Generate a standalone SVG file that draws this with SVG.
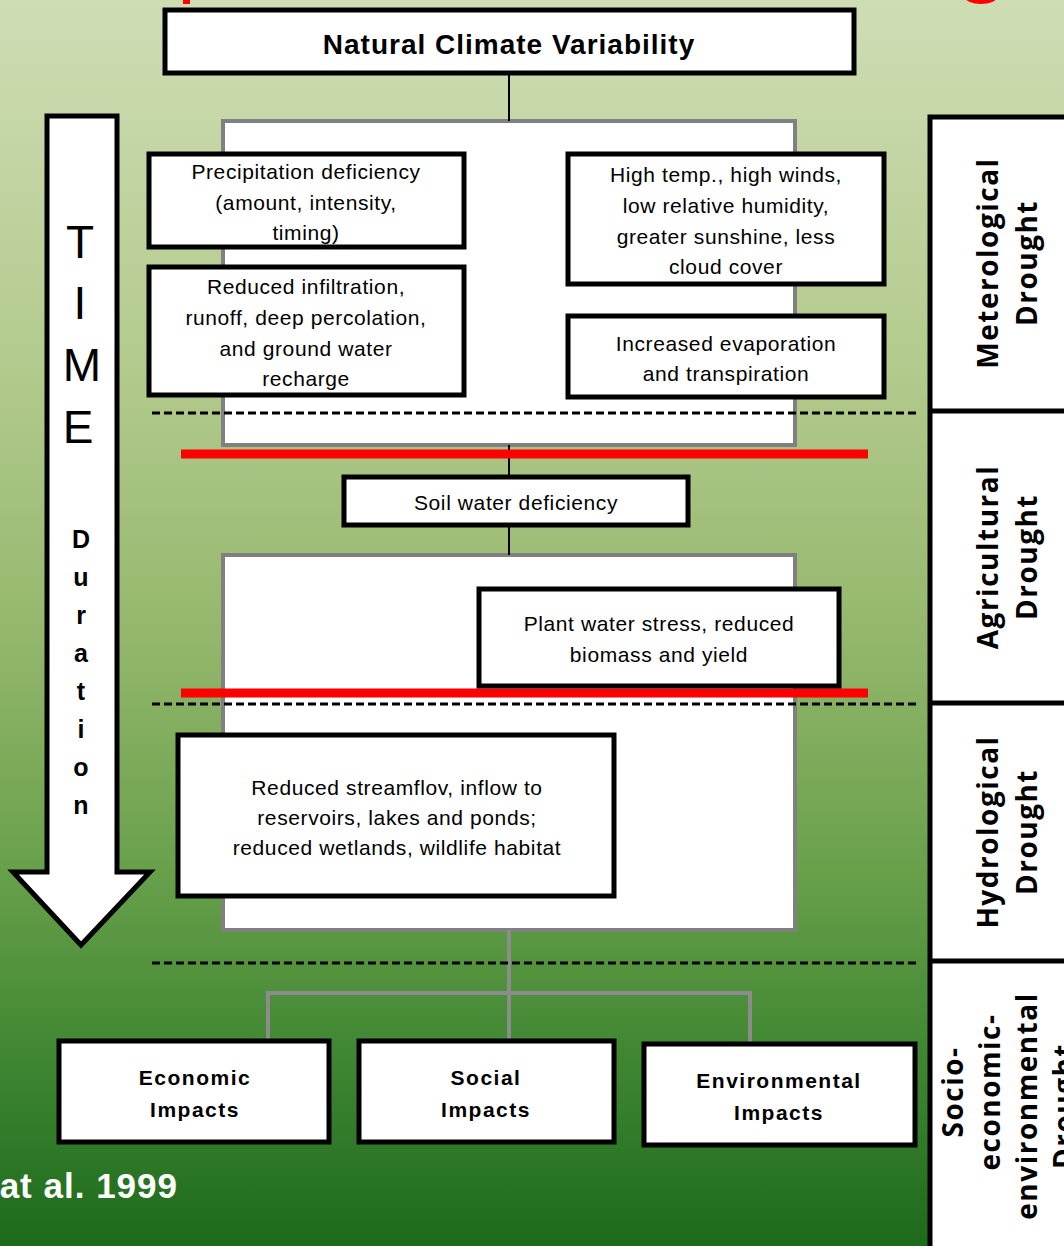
<svg xmlns="http://www.w3.org/2000/svg" width="1064" height="1246" viewBox="0 0 1064 1246">
<defs>
<linearGradient id="bg" x1="0" y1="0" x2="0" y2="1">
<stop offset="0" stop-color="#cfddb5"/>
<stop offset="0.3" stop-color="#b2ca8c"/>
<stop offset="0.5" stop-color="#96b86e"/>
<stop offset="0.7" stop-color="#68a04a"/>
<stop offset="0.85" stop-color="#3f8632"/>
<stop offset="1" stop-color="#1d6a1b"/>
</linearGradient>
<style>
.box{fill:#fff;stroke:#000;stroke-width:5}
.gbox{fill:#fff;stroke:#808080;stroke-width:4}
.t{font-family:"Liberation Sans Narrow","Liberation Sans",sans-serif;font-size:21px;fill:#000;text-anchor:middle;letter-spacing:0.6px}
.tb{font-family:"Liberation Sans Narrow","Liberation Sans",sans-serif;font-size:21px;font-weight:bold;fill:#000;text-anchor:middle;letter-spacing:1.5px}
.side{font-family:"Open Sans","Liberation Sans",sans-serif;font-size:28px;font-weight:bold;fill:#000;text-anchor:middle;letter-spacing:1.5px}
.dash{stroke:#000;stroke-width:3;stroke-dasharray:8 4;fill:none}
.red{stroke:#ff0000;stroke-width:9;fill:none}
.blk{stroke:#000;stroke-width:2;fill:none}
.gry{stroke:#8c8c8c;stroke-width:4;fill:none}
.dur{font-family:"Liberation Sans",sans-serif;font-size:25px;font-weight:bold;fill:#000;text-anchor:middle}
.time{font-family:"Liberation Sans",sans-serif;font-size:46px;fill:#000;text-anchor:middle}
</style>
</defs>
<rect x="0" y="0" width="1064" height="1246" fill="url(#bg)"/>
<rect x="183" y="0" width="7" height="4" fill="#ff0000"/>
<ellipse cx="981" cy="-3" rx="16" ry="7" fill="#ff0000"/>

<g id="gray-box-1"><rect class="gbox" x="223" y="121" width="572" height="324"/></g>
<g id="gray-box-2"><rect class="gbox" x="223" y="555" width="572" height="375"/></g>

<g id="connectors">
<line class="blk" x1="509" y1="74" x2="509" y2="121"/>
<line class="blk" x1="509" y1="445" x2="509" y2="476"/>
<line class="blk" x1="509" y1="526" x2="509" y2="555"/>
<line class="gry" x1="509" y1="930" x2="509" y2="1040"/>
<polyline class="gry" points="268,1040 268,993 750,993 750,1043"/>
</g>

<g id="separators">
<line class="dash" x1="152" y1="413" x2="918" y2="413"/>
<line class="dash" x1="152" y1="704" x2="918" y2="704"/>
<line class="dash" x1="152" y1="963" x2="918" y2="963"/>
<line class="red" x1="181" y1="454" x2="868" y2="454"/>
<line class="red" x1="181" y1="693" x2="868" y2="693"/>
</g>

<g id="natural-climate-variability">
<rect class="box" x="165" y="10" width="689" height="63"/>
<text x="509" y="54" font-family="Liberation Sans Narrow, Liberation Sans, sans-serif" font-size="28" font-weight="bold" text-anchor="middle" letter-spacing="1">Natural Climate Variability</text>
</g>

<g id="precipitation-deficiency">
<rect class="box" x="149" y="154" width="315" height="93"/>
<text class="t" x="306" y="179">Precipitation deficiency</text>
<text class="t" x="306" y="210">(amount, intensity,</text>
<text class="t" x="306" y="240">timing)</text>
</g>

<g id="reduced-infiltration">
<rect class="box" x="149" y="267" width="315" height="128"/>
<text class="t" x="306" y="294">Reduced infiltration,</text>
<text class="t" x="306" y="325">runoff, deep percolation,</text>
<text class="t" x="306" y="356">and ground water</text>
<text class="t" x="306" y="386">recharge</text>
</g>

<g id="high-temp">
<rect class="box" x="568" y="154" width="316" height="130"/>
<text class="t" x="726" y="182">High temp., high winds,</text>
<text class="t" x="726" y="213">low relative humidity,</text>
<text class="t" x="726" y="244">greater  sunshine, less</text>
<text class="t" x="726" y="274">cloud cover</text>
</g>

<g id="increased-evaporation">
<rect class="box" x="568" y="316" width="316" height="81"/>
<text class="t" x="726" y="351">Increased evaporation</text>
<text class="t" x="726" y="381">and transpiration</text>
</g>

<g id="soil-water-deficiency">
<rect class="box" x="344" y="477" width="344" height="48"/>
<text class="t" x="516" y="510">Soil water deficiency</text>
</g>

<g id="plant-water-stress">
<rect class="box" x="479" y="589" width="360" height="97"/>
<text class="t" x="659" y="631">Plant water stress, reduced</text>
<text class="t" x="659" y="662">biomass and yield</text>
</g>

<g id="reduced-streamflow">
<rect class="box" x="178" y="735" width="436" height="161"/>
<text class="t" x="397" y="795">Reduced  streamflov, inflow to</text>
<text class="t" x="397" y="825">reservoirs, lakes and ponds;</text>
<text class="t" x="397" y="855">reduced wetlands, wildlife habitat</text>
</g>

<g id="economic-impacts">
<rect class="box" x="59" y="1041" width="270" height="101"/>
<text class="tb" x="195" y="1085">Economic</text>
<text class="tb" x="195" y="1117">Impacts</text>
</g>

<g id="social-impacts">
<rect class="box" x="359" y="1041" width="255" height="101"/>
<text class="tb" x="486" y="1085">Social</text>
<text class="tb" x="486" y="1117">Impacts</text>
</g>

<g id="environmental-impacts">
<rect class="box" x="644" y="1044" width="271" height="101"/>
<text class="tb" x="779" y="1088">Environmental</text>
<text class="tb" x="779" y="1120">Impacts</text>
</g>

<g id="time-arrow">
<polygon points="47,116 117,116 117,872 150,872 81,945 13,872 47,872" fill="#fff" stroke="#000" stroke-width="5" stroke-linejoin="miter"/>
<text class="time" x="80" y="258">T</text>
<text class="time" x="80" y="319">I</text>
<text class="time" x="82" y="381">M</text>
<text class="time" x="78" y="443">E</text>
<text class="dur" x="81" y="548">D</text>
<text class="dur" x="81" y="586">u</text>
<text class="dur" x="81" y="624">r</text>
<text class="dur" x="81" y="662">a</text>
<text class="dur" x="81" y="700">t</text>
<text class="dur" x="81" y="738">i</text>
<text class="dur" x="81" y="776">o</text>
<text class="dur" x="81" y="814">n</text>
</g>

<g id="drought-types">
<rect x="930" y="117" width="200" height="1200" fill="#fff" stroke="#000" stroke-width="5"/>
<line x1="930" y1="411" x2="1064" y2="411" stroke="#000" stroke-width="5"/>
<line x1="930" y1="703" x2="1064" y2="703" stroke="#000" stroke-width="5"/>
<line x1="930" y1="961" x2="1064" y2="961" stroke="#000" stroke-width="5"/>
<g id="meteorological-drought">
<text class="side" transform="translate(998,263) rotate(-90)">Meterological</text>
<text class="side" transform="translate(1037,263) rotate(-90)">Drought</text>
</g>
<g id="agricultural-drought">
<text class="side" transform="translate(998,557) rotate(-90)">Agricultural</text>
<text class="side" transform="translate(1037,557) rotate(-90)">Drought</text>
</g>
<g id="hydrological-drought">
<text class="side" transform="translate(998,832) rotate(-90)">Hydrological</text>
<text class="side" transform="translate(1037,832) rotate(-90)">Drought</text>
</g>
<g id="socio-economic-drought">
<text class="side" transform="translate(963,1092) rotate(-90)">Socio-</text>
<text class="side" transform="translate(1000,1092) rotate(-90)">economic-</text>
<text class="side" transform="translate(1037,1106) rotate(-90)">environmental</text>
<text class="side" transform="translate(1074,1106) rotate(-90)">Drought</text>
</g>
</g>

<text x="178" y="1198" font-family="Liberation Sans, sans-serif" font-size="35" font-weight="bold" fill="#fff" text-anchor="end" letter-spacing="1">at al. 1999</text>
</svg>
